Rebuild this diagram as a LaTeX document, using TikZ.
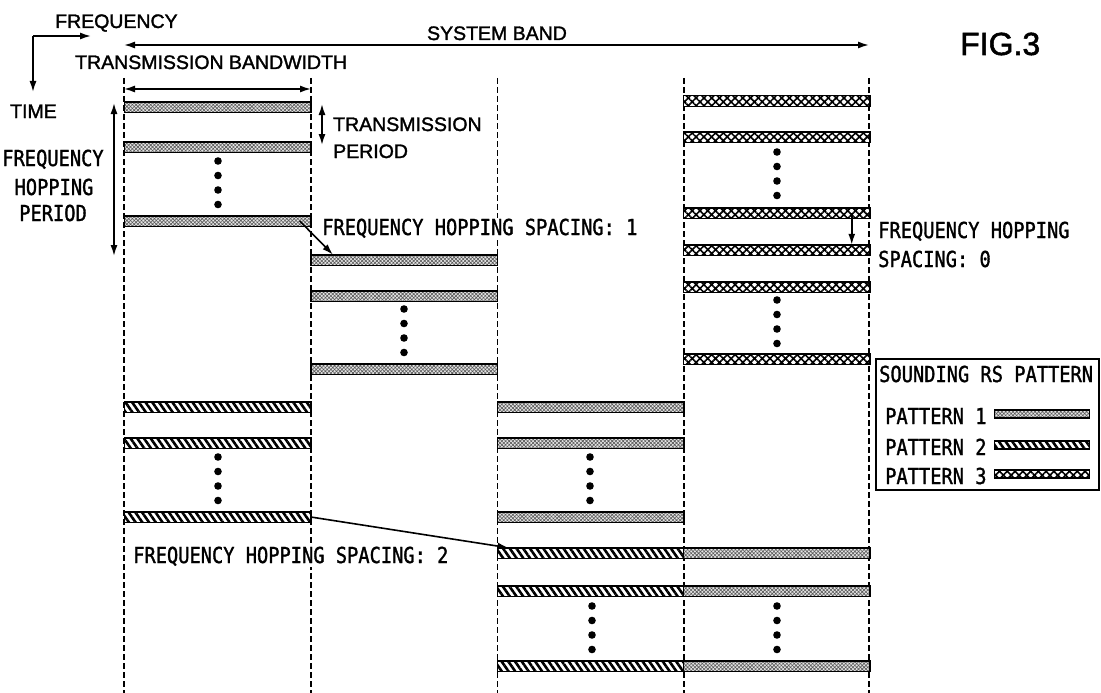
\documentclass[tikz,border=0pt]{standalone}
\usepackage{fontspec}
\setmainfont{Liberation Sans}
\newfontfamily\gothic[FakeStretch=0.85,FakeBold=1.4]{DejaVu Sans Mono}
\newfontfamily\sansfnt[FakeBold=1.6]{Liberation Sans}
\usetikzlibrary{arrows.meta,patterns.meta}
\tikzset{
  vdash/.style={line width=1.3pt, dash pattern=on 6pt off 3pt},
  barbase/.style={rectangle, draw=black, line width=1.5pt, minimum width=186.5pt, minimum height=10.5pt, inner sep=0pt, outer sep=0pt},
  pat1/.style={barbase, preaction={fill=gray!20}, pattern={Hatch[angle=45,distance=2.6pt,line width=0.6pt]}, pattern color=gray!70!black},
  pat2/.style={barbase, preaction={fill=white}, pattern={Lines[angle=-55,distance=5.5pt,line width=2.6pt]}, pattern color=black},
  pat3/.style={barbase, preaction={fill=white}, pattern={Hatch[angle=45,distance=5.5pt,line width=1.6pt]}, pattern color=black},
  legbar/.style={minimum width=95pt, minimum height=8pt},
  arr/.style={line width=1.6pt, -{Latex[length=11pt,width=7pt]}},
  darr/.style={line width=1.6pt, {Latex[length=11pt,width=7pt]}-{Latex[length=11pt,width=7pt]}},
  sans/.style={font=\sansfnt\fontsize{19.5}{22}\selectfont, inner sep=0pt, anchor=base west},
  mono/.style={font=\gothic\fontsize{22}{24}\selectfont, inner sep=1pt, anchor=base west, fill=white},
}
\begin{document}
\begin{tikzpicture}[x=1pt,y=-1pt]
\useasboundingbox (0,0) rectangle (1101,693);
\fill[white] (0,0) rectangle (1101,693);
% dashed column borders
\foreach \xx in {124,311,497.5,684,869} \draw[vdash] (\xx,78) -- (\xx,693);

% axes
\coordinate (ax) at (33,36);
\coordinate (axf) at (91,36);
\coordinate (axt) at (33,92);
\draw[arr] (ax) -- (axf);
\draw[arr] (ax) -- (axt);
\node[sans] (tfreq) at (55,28) {FREQUENCY};
\node[sans] (ttime) at (10,118) {TIME};

% system band
\coordinate (sb1) at (124,45);
\coordinate (sb2) at (869,45);
\draw[darr] (sb1) -- (sb2);
\node[sans, anchor=base] (tsys) at (497,40) {SYSTEM BAND};
% transmission bandwidth
\coordinate (tb1) at (124,89);
\coordinate (tb2) at (311,89);
\draw[darr] (tb1) -- (tb2);
\node[sans] (ttbw) at (75,69) {TRANSMISSION BANDWIDTH};

\node[font=\sansfnt\fontsize{32}{36}\selectfont, inner sep=0pt, anchor=base west] (fig) at (960,55) {FIG.3};

% column 1, pattern 1
\node[pat1] (a1) at (217.5,107) {};
\node[pat1] (a2) at (217.5,147) {};
\node[pat1] (a3) at (217.5,221) {};
% column 2, pattern 1
\node[pat1] (b1) at (404.25,260) {};
\node[pat1] (b2) at (404.25,296) {};
\node[pat1] (b3) at (404.25,369) {};
% column 4, pattern 3
\node[pat3] (d1) at (776.5,101) {};
\node[pat3] (d2) at (776.5,137) {};
\node[pat3] (d3) at (776.5,213) {};
\node[pat3] (d4) at (776.5,250) {};
\node[pat3] (d5) at (776.5,287) {};
\node[pat3] (d6) at (776.5,359) {};
% column 1, pattern 2
\node[pat2] (e1) at (217.5,407) {};
\node[pat2] (e2) at (217.5,443) {};
\node[pat2] (e3) at (217.5,517) {};
% column 3, pattern 1
\node[pat1] (c1) at (590.75,407) {};
\node[pat1] (c2) at (590.75,443) {};
\node[pat1] (c3) at (590.75,517) {};
% column 3, pattern 2
\node[pat2] (f1) at (590.75,553) {};
\node[pat2] (f2) at (590.75,591) {};
\node[pat2] (f3) at (590.75,666) {};
% column 4, pattern 1
\node[pat1] (g1) at (776.5,553) {};
\node[pat1] (g2) at (776.5,591) {};
\node[pat1] (g3) at (776.5,666) {};

% dots
\foreach \px/\ys in {218/161, 404/309, 777/152, 777/300, 218/457, 590/457, 592/606, 777/606}
  \foreach \k in {0,1,2,3} \fill (\px,\ys+\k*14.5) circle (3.8pt);

% frequency hopping period
\coordinate (fp1) at (114,103);
\coordinate (fp2) at (114,256);
\draw[darr] (fp1) -- (fp2);
\node[mono, fill=none, anchor=base] (tfhp1) at (53,166) {FREQUENCY};
\node[mono, fill=none, anchor=base] (tfhp2) at (54,195) {HOPPING};
\node[mono, fill=none, anchor=base] (tfhp3) at (53,221) {PERIOD};

% transmission period
\coordinate (tp1) at (322,104);
\coordinate (tp2) at (322,145);
\draw[darr] (tp1) -- (tp2);
\node[sans] (ttp1) at (333,131) {TRANSMISSION};
\node[sans] (ttp2) at (333,158) {PERIOD};

% hopping arrows
\draw[arr] ([xshift=-11pt]a3.east) -- ([xshift=22pt]b1.north west);
\node[mono] (ts1) at (321,235) {FREQUENCY HOPPING SPACING: 1};
\draw[arr] ([xshift=-18pt]d3.east) -- ([xshift=-18pt]d4.north east);
\node[mono, fill=none] (ts0a) at (877,238) {FREQUENCY HOPPING};
\node[mono, fill=none] (ts0b) at (877,267) {SPACING: 0};
\draw[arr] (e3.east) -- ([xshift=11pt]f1.north west);
\node[mono] (ts2) at (132,563) {FREQUENCY HOPPING SPACING: 2};

% legend
\node[draw, line width=1.5pt, minimum width=223pt, minimum height=131pt, inner sep=0pt, anchor=north west] (leg) at (875,358) {};
\node[mono, fill=none] (lt) at (878,382) {SOUNDING RS PATTERN};
\node[mono, fill=none] (l1) at (884,424) {PATTERN 1};
\node[mono, fill=none] (l2) at (884,455) {PATTERN 2};
\node[mono, fill=none] (l3) at (884,484) {PATTERN 3};
\node[pat1, legbar] (lb1) at (1042,414) {};
\node[pat2, legbar] (lb2) at (1042,445) {};
\node[pat3, legbar] (lb3) at (1042,474) {};
\end{tikzpicture}
\end{document}
